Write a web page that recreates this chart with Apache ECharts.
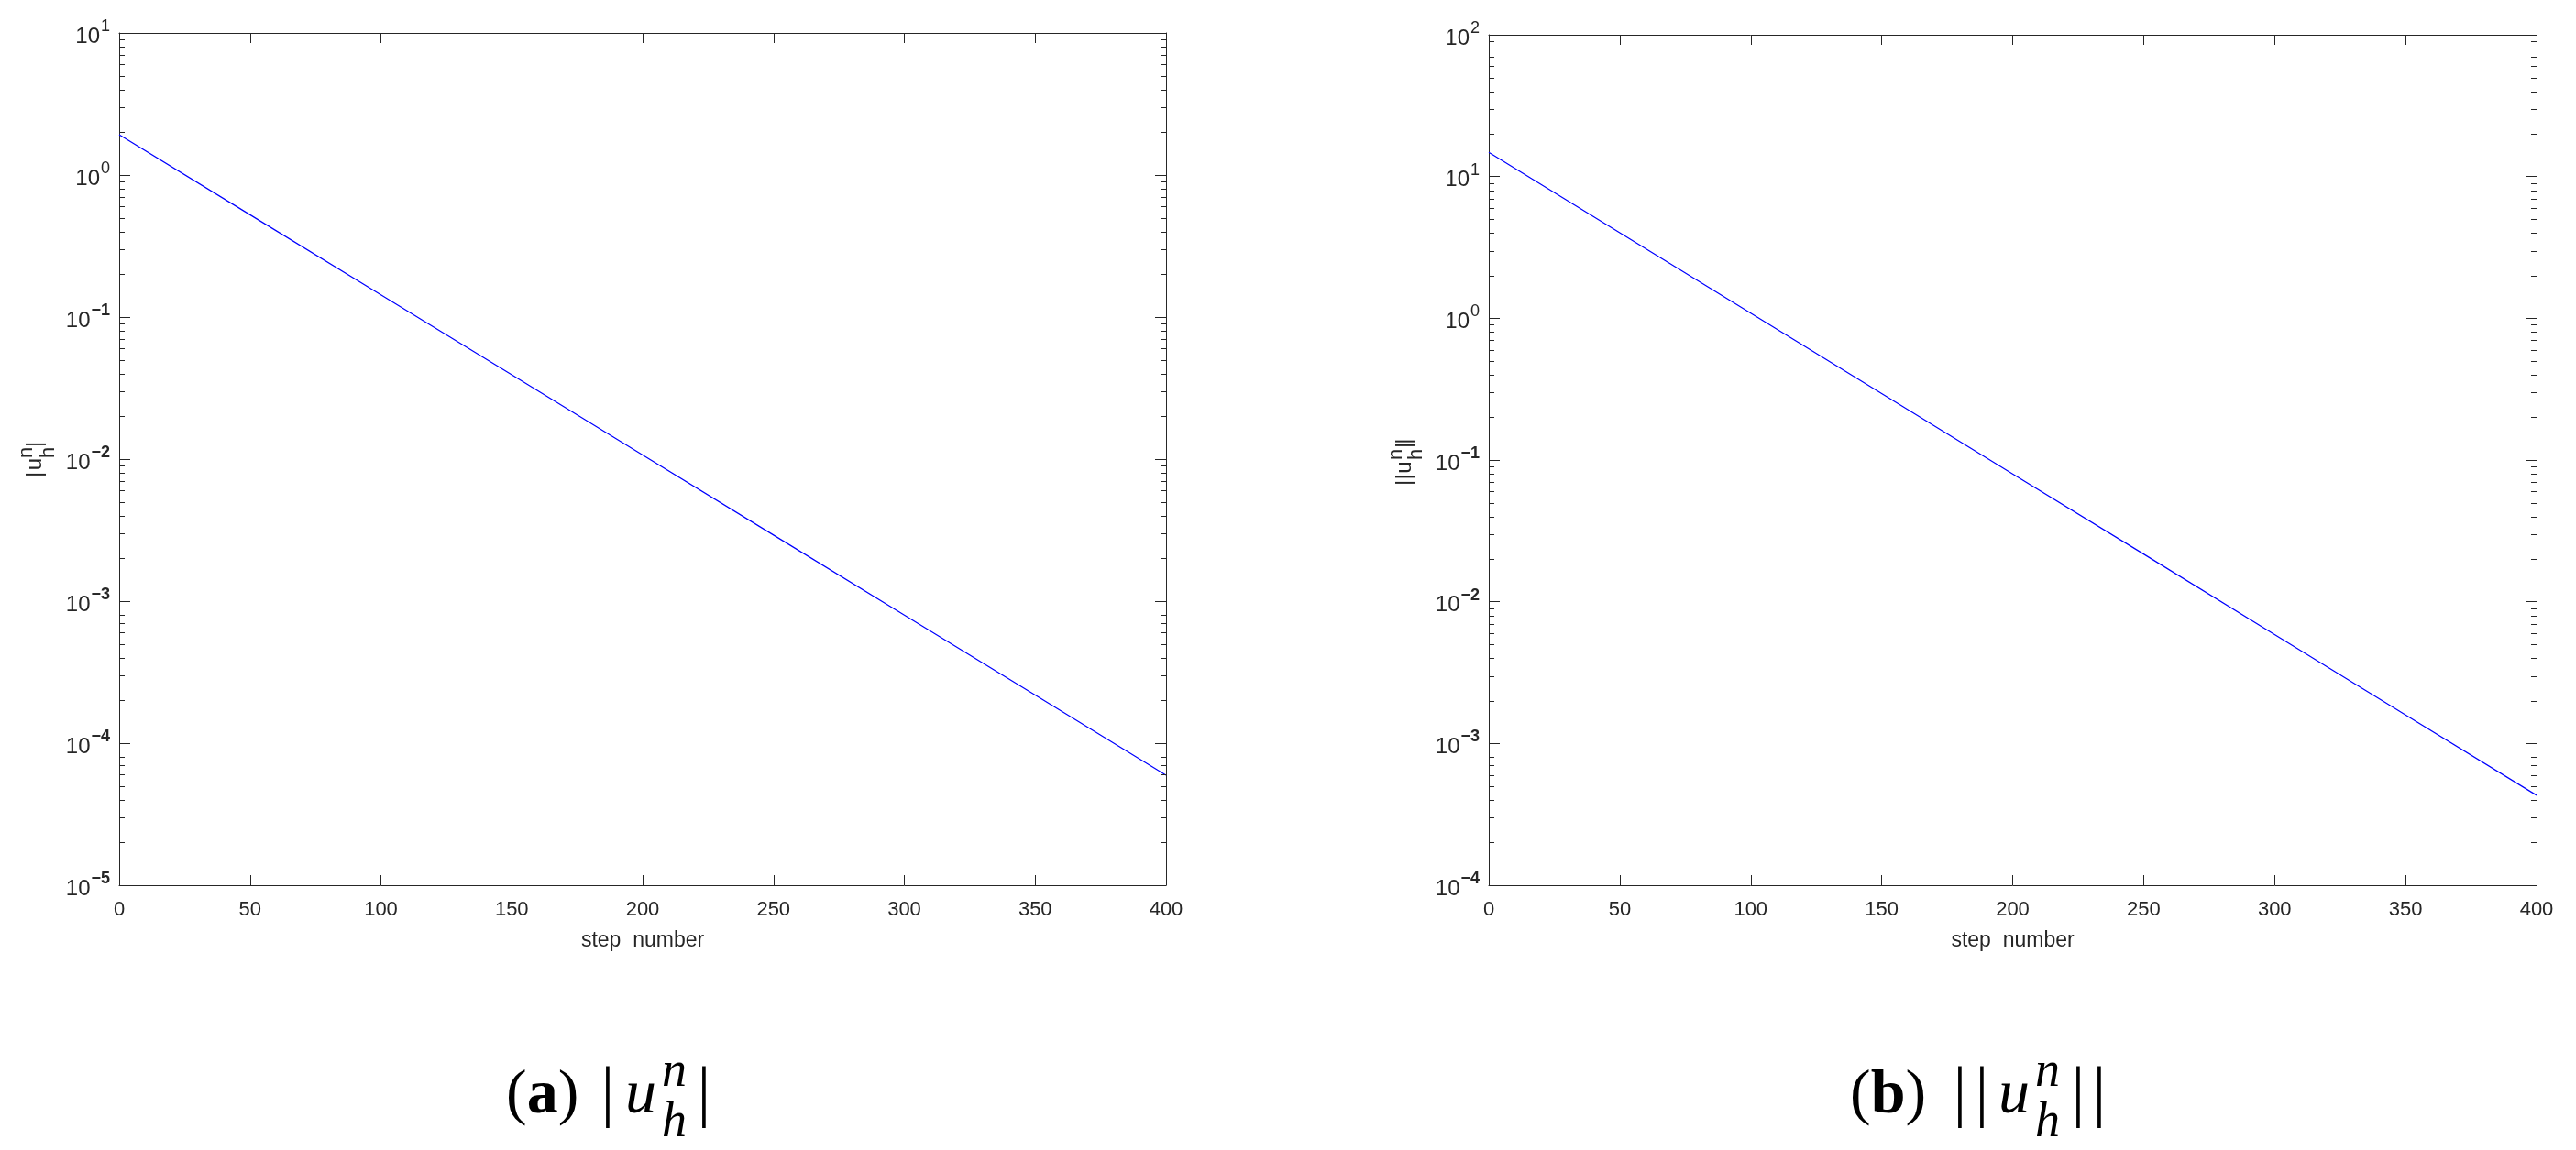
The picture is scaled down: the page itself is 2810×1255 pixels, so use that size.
<!DOCTYPE html>
<html><head><meta charset="utf-8">
<script src="https://cdn.jsdelivr.net/npm/echarts@6/dist/echarts.min.js"></script>
<style>html,body{margin:0;padding:0;background:#fff}#c{width:2810px;height:1255px}</style>
</head><body><div id="c"></div>
<script>
// ---- data ----
const steps = [0, 50, 100, 150, 200, 250, 300, 350, 400];
const absU  = [1.92, 0.525, 0.1435, 0.0392, 0.0107, 0.00292, 0.000798, 0.000218, 0.0000594];
const normU = [14.8, 4.01, 1.087, 0.294, 0.0798, 0.0217, 0.00587, 0.00159, 0.000431];
const xRange = [0, 400];
const xStep = 50;
const yRangeA = [1e-5, 10];
const yRangeB = [1e-4, 100];
const minorMult = [2, 3, 4, 5, 6, 7, 8, 9];

const AX = '#262626';
const SANS = 'Liberation Sans, Arial, Helvetica, sans-serif';
const SERIF = 'Liberation Serif, Times New Roman, serif';

function minorValues(range) {
  const out = [];
  const e0 = Math.round(Math.log10(range[0])), e1 = Math.round(Math.log10(range[1]));
  for (let e = e0; e < e1; e++) minorMult.forEach(m => out.push(m * Math.pow(10, e)));
  return out;
}

const yRich = {
  b: { fontSize: 24, fontFamily: SANS, color: AX, lineHeight: 32, verticalAlign: 'bottom' },
  s: { fontSize: 18, fontFamily: SANS, color: AX, lineHeight: 32, verticalAlign: 'top', padding: [0, 0, 0, 1] },
  sn: { fontSize: 18, fontFamily: SANS, color: AX, fontWeight: 'bold', lineHeight: 32, verticalAlign: 'top', padding: [0, 0, 0, 1] }
};
function yFmt(v) {
  const e = Math.round(Math.log10(v));
  return e < 0 ? '{b|10}{sn|\u2212' + (-e) + '}' : '{b|10}{s|' + e + '}';
}

function xAxisDef(grid, pos, showLabel) {
  return {
    type: 'value', gridIndex: grid, position: pos, min: xRange[0], max: xRange[1], interval: xStep,
    axisLine: { show: true, onZero: false, lineStyle: { color: AX, width: 1 } },
    axisTick: { show: true, inside: true, length: 11, lineStyle: { color: AX, width: 1 } },
    axisLabel: { show: showLabel, margin: 16, fontSize: 22, fontFamily: SANS, color: AX },
    splitLine: { show: false },
    name: showLabel ? 'step  number' : '', nameLocation: 'middle', nameGap: 49,
    nameTextStyle: { fontSize: 23, fontFamily: SANS, color: AX }
  };
}
function yAxisDef(grid, pos, range, showLabel) {
  return {
    type: 'log', logBase: 10, gridIndex: grid, position: pos, min: range[0], max: range[1], splitNumber: 6,
    axisLine: { show: true, onZero: false, lineStyle: { color: AX, width: 1 } },
    axisTick: { show: true, inside: true, length: 12, lineStyle: { color: AX, width: 1 } },
    axisLabel: { show: showLabel, margin: 10, formatter: yFmt, rich: yRich },
    splitLine: { show: false }
  };
}

function minorSeries(xi, yi, range) {
  return {
    type: 'custom', xAxisIndex: xi, yAxisIndex: yi, silent: true, animation: false, z: 5,
    data: minorValues(range).map(v => [0, v]),
    renderItem: function (params, api) {
      const cs = params.coordSys;
      const y = Math.round(api.coord([0, api.value(1)])[1]) + 0.5;
      const st = { stroke: AX, lineWidth: 1 };
      return { type: 'group', children: [
        { type: 'line', shape: { x1: cs.x, y1: y, x2: cs.x + 6, y2: y }, style: st },
        { type: 'line', shape: { x1: cs.x + cs.width - 6, y1: y, x2: cs.x + cs.width, y2: y }, style: st }
      ] };
    }
  };
}

// text helper: baseline placement (middle ~0.31em above baseline)
function T(x, base, str, size, font, extra) {
  return Object.assign({ type: 'text', x: x, y: base - 0.31 * size,
    style: Object.assign({ text: str, fontSize: size, fontFamily: font, fill: '#000', align: 'left', verticalAlign: 'middle' }, extra || {}) });
}

function yName(ox, oy, bars, uX, nhX, bars2, nY, hY) {
  const ch = [];
  bars.forEach(b => ch.push(T(b, 0, '|', 24, SANS, { align: 'center', fill: AX })));
  ch.push(T(uX, 0, 'u', 24, SANS, { align: 'center', fill: AX }));
  ch.push(T(nhX, nY, 'n', 22, SANS, { align: 'center', fill: AX }));
  ch.push(T(nhX, hY, 'h', 22, SANS, { align: 'center', fill: AX }));
  bars2.forEach(b => ch.push(T(b, 0, '|', 24, SANS, { align: 'center', fill: AX })));
  return { type: 'group', x: ox, y: oy, rotation: Math.PI / 2, children: ch };
}

function caption(letter, parenX, barsL, uX, nhX, barsR) {
  const base = 1217;
  const ch = [];
  ch.push({ type: 'text', x: parenX, y: base - 0.305 * 68, style: {
    text: '{p|(}{b|' + letter + '}{p|)}', fontSize: 68, fontFamily: SERIF, fill: '#000', align: 'left', verticalAlign: 'middle',
    rich: { p: { fontSize: 68, fontFamily: SERIF, fill: '#000' }, b: { fontSize: 68, fontFamily: SERIF, fontWeight: 'bold', fill: '#000' } } } });
  barsL.forEach(b => ch.push(T(b, base + 2, '|', 74, SERIF, { align: 'center' })));
  ch.push(T(uX, base, 'u', 68, SERIF, { fontStyle: 'italic' }));
  ch.push(T(nhX, 1188, 'n', 54, SERIF, { fontStyle: 'italic' }));
  ch.push(T(nhX, 1243, 'h', 54, SERIF, { fontStyle: 'italic' }));
  barsR.forEach(b => ch.push(T(b, base + 2, '|', 74, SERIF, { align: 'center' })));
  return { type: 'group', children: ch };
}

const option = {
  backgroundColor: '#fff',
  animation: false,
  grid: [
    { left: 130, top: 36, width: 1142, height: 930 },
    { left: 1624, top: 38, width: 1143, height: 928 }
  ],
  xAxis: [xAxisDef(0, 'bottom', true), xAxisDef(0, 'top', false), xAxisDef(1, 'bottom', true), xAxisDef(1, 'top', false)],
  yAxis: [yAxisDef(0, 'left', yRangeA, true), yAxisDef(0, 'right', yRangeA, false),
          yAxisDef(1, 'left', yRangeB, true), yAxisDef(1, 'right', yRangeB, false)],
  series: [
    { type: 'line', xAxisIndex: 0, yAxisIndex: 0, data: steps.map((s, i) => [s, absU[i]]), showSymbol: false,
      lineStyle: { color: '#0000ff', width: 1.2 }, itemStyle: { color: '#0000ff' }, z: 3 },
    { type: 'line', xAxisIndex: 2, yAxisIndex: 2, data: steps.map((s, i) => [s, normU[i]]), showSymbol: false,
      lineStyle: { color: '#0000ff', width: 1.2 }, itemStyle: { color: '#0000ff' }, z: 3 },
    minorSeries(0, 0, yRangeA), minorSeries(2, 2, yRangeB)
  ],
  graphic: [
    yName(46, 518, [0], 11.5, 24, [33], -10, 14),
    yName(1540, 527, [0, 6.7], 17, 31, [41, 45.3], -10, 12),
    caption('a', 552, [663], 682, 722, [768]),
    caption('b', 2018, [2138, 2162], 2180, 2220, [2267, 2290])
  ]
};
const chart = echarts.init(document.getElementById('c'), null, { renderer: 'canvas' });
chart.setOption(option);
</script></body></html>
